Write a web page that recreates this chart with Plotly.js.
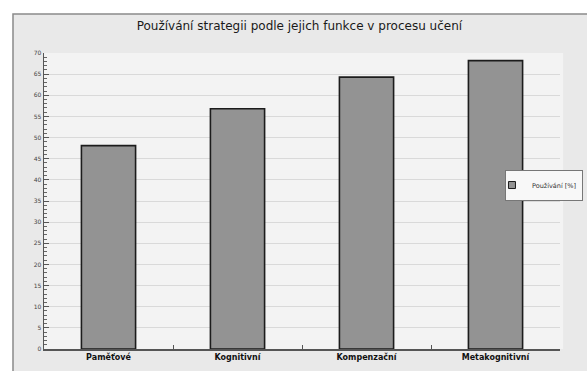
<!DOCTYPE html>
<html>
<head>
<meta charset="utf-8">
<script src="https://cdn.plot.ly/plotly-3.0.1.min.js"></script>
<style>
  html, body { margin: 0; padding: 0; background: #ffffff; }
  #chart { width: 587px; height: 371px; }
</style>
</head>
<body>
<div id="chart"></div>
<script>
// Share of learners using each strategy group, by its role in learning
const categories = ['Paměťové', 'Kognitivní', 'Kompenzační', 'Metakognitivní'];
const usage = [48.1, 56.8, 64.3, 68.2];
const seriesName = 'Používání [%]';
const chartTitle = 'Používání strategii podle jejich funkce v procesu učení';

const barFill = '#939393';
const barEdge = '#1c1c1c';

const bars = {
  type: 'bar',
  x: categories,
  y: usage,
  name: seriesName,
  width: 0.42,
  showlegend: false,
  marker: { color: barFill, line: { color: barEdge, width: 1.6 } },
  hoverinfo: 'x+y'
};

// compact square key for the legend box
const key = {
  type: 'scatter',
  mode: 'markers',
  x: [null],
  y: [null],
  name: seriesName,
  showlegend: true,
  marker: { symbol: 'square', size: 7, color: barFill, line: { color: barEdge, width: 1 } },
  hoverinfo: 'skip'
};

const layout = {
  width: 587,
  height: 371,
  // right margin left at zero; the x axis domain stops short of the edge instead,
  // leaving room for the legend without pushing the margins
  margin: { l: 44, r: 0, t: 53, b: 22 },
  paper_bgcolor: '#ffffff',
  plot_bgcolor: '#f3f3f3',
  font: { family: 'DejaVu Sans, sans-serif', color: '#222' },
  title: {
    text: chartTitle,
    font: { size: 12, color: '#1a1a1a' },
    x: 0.51, xanchor: 'center',
    y: 0.93, yanchor: 'middle'
  },
  showlegend: true,
  legend: {
    x: 0.9926, xanchor: 'right',
    y: 0.554, yanchor: 'middle',
    bgcolor: '#f8f8f8',
    bordercolor: '#777',
    borderwidth: 1,
    font: { size: 6.5, color: '#333' },
    itemwidth: 30,
    indentation: -14,
    tracegroupgap: 0
  },
  xaxis: {
    type: 'category',
    domain: [0, 0.9503],
    range: [-0.5, 3.5],
    showline: true,
    linecolor: '#555',
    linewidth: 1.5,
    showgrid: false,
    tickson: 'boundaries',
    ticks: 'inside',
    ticklen: 4,
    tickcolor: '#555',
    tickfont: { size: 8, color: '#111', weight: 'bold' },
    fixedrange: true
  },
  yaxis: {
    range: [0, 70],
    dtick: 5,
    showline: true,
    linecolor: '#555',
    linewidth: 1.5,
    showgrid: true,
    gridcolor: '#d9d9d9',
    gridwidth: 1,
    zeroline: false,
    ticks: 'inside',
    ticklen: 5,
    tickcolor: '#555',
    tickfont: { size: 6, color: '#444' },
    minor: { ticks: 'inside', dtick: 1, ticklen: 3, tickcolor: '#666', showgrid: false },
    fixedrange: true
  },
  shapes: [
    // outer frame of the chart panel
    {
      type: 'rect', xref: 'paper', yref: 'paper', layer: 'below',
      x0: -0.0571, x1: 1.1, y0: -0.2, y1: 1.1318,
      fillcolor: '#e9e9e9',
      line: { color: '#8a8a8a', width: 1.5 }
    },
    // plotting area
    {
      type: 'rect', xref: 'x domain', yref: 'y domain', layer: 'below',
      x0: 0, x1: 1.006, y0: 0, y1: 1.0,
      fillcolor: '#f3f3f3',
      line: { width: 0 }
    }
  ]
};

Plotly.newPlot('chart', [bars, key], layout, { displayModeBar: false, staticPlot: true });
</script>
</body>
</html>
